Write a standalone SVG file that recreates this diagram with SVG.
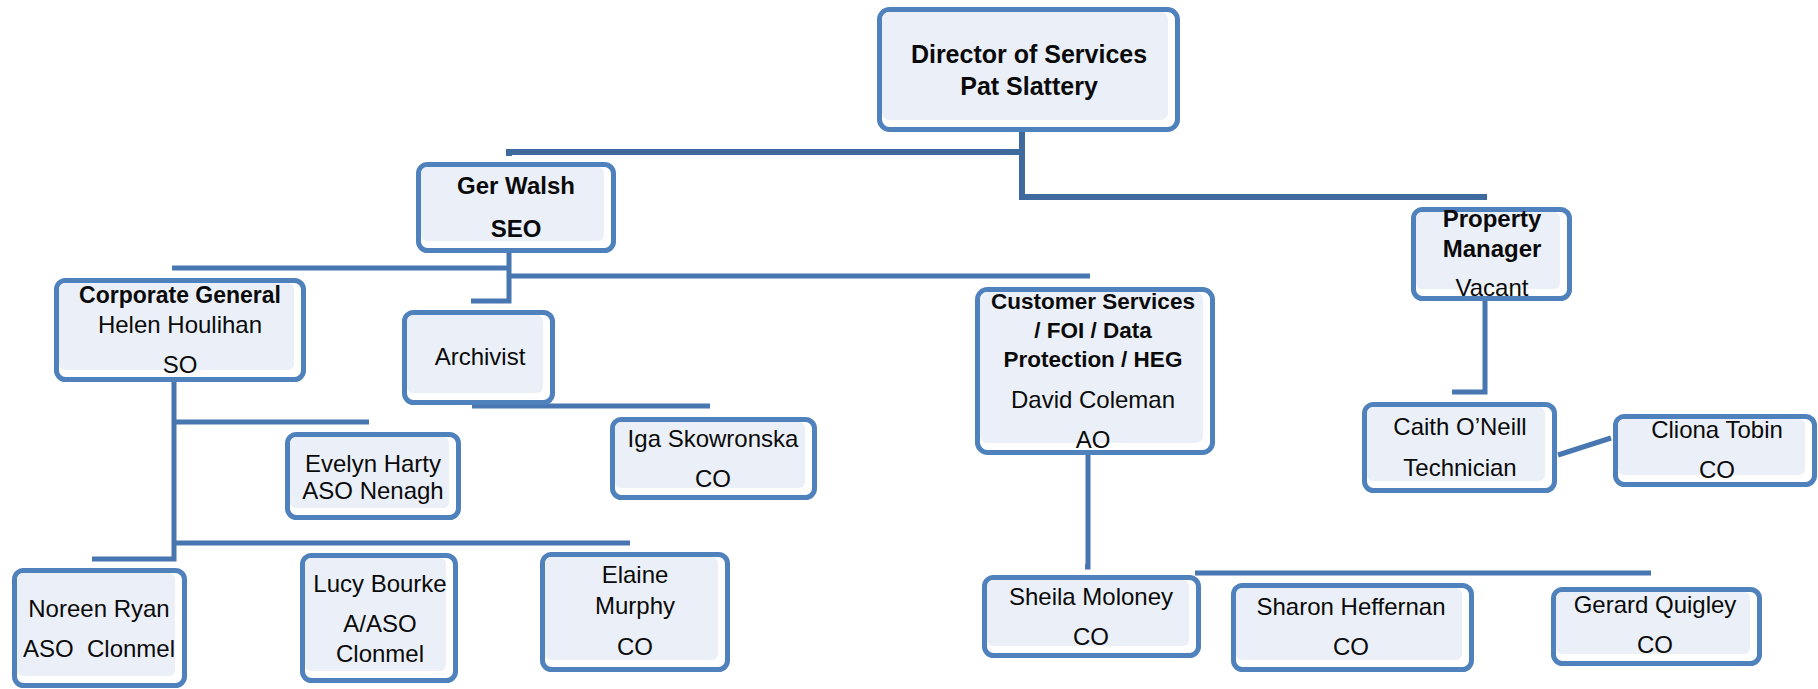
<svg xmlns="http://www.w3.org/2000/svg" width="1818" height="689" viewBox="0 0 1818 689">
  <style>
    .frame { fill: #ffffff; stroke: #4f81bd; stroke-width: 5; }
    .inner { fill: #ebf0f8; stroke: none; }
    .ln { fill: none; stroke: #4876b0; stroke-width: 5; stroke-linecap: butt; stroke-linejoin: miter; }
    .ln-top { fill: none; stroke: #3f6a9e; stroke-width: 6; }
    text { font-family: "Liberation Sans", Arial, sans-serif; fill: #0a0a0a; text-anchor: middle; }
    .b { font-weight: bold; font-size: 24px; }
    .r { font-size: 24px; }
  </style>

  <!-- connectors -->
  <g id="connectors">
    <!-- Director of Services -->
    <path class="ln-top" d="M1022,130 V197 H1487"/>
    <path class="ln-top" d="M1022,152 H509 v4"/>
    <!-- Property Manager to Technician -->
    <path class="ln" d="M1485,301 V392 H1452"/>
    <path class="ln" d="M1558,455 L1611,438"/>
    <!-- SEO branches -->
    <path class="ln" d="M509,253 V301 H471"/>
    <path class="ln" d="M509,268 H172"/>
    <path class="ln" d="M509,276 H1090"/>
    <!-- Archivist to CO -->
    <path class="ln" d="M472,406 H710"/>
    <!-- Corporate General branches -->
    <path class="ln" d="M174,382 V559 H92"/>
    <path class="ln" d="M174,422 H369"/>
    <path class="ln" d="M174,543 H630"/>
    <!-- Customer Services branches -->
    <path class="ln" d="M1088,455 V567 h-3"/>
    <path class="ln" d="M1195,573 H1651"/>
  </g>

  <g id="director">
    <rect class="frame" x="879.5" y="9.5" width="298" height="120" rx="10"/>
    <rect class="inner" x="882" y="12" width="286" height="108" rx="7"/>
    <text class="b" x="1029" y="63" style="font-size:25px">Director of Services</text>
    <text class="b" x="1029" y="95" style="font-size:25px">Pat Slattery</text>
  </g>

  <g id="ger-walsh">
    <rect class="frame" x="418.5" y="164.5" width="195" height="86" rx="9"/>
    <rect class="inner" x="421" y="167" width="183" height="74" rx="6"/>
    <text class="b" x="516" y="194">Ger Walsh</text>
    <text class="b" x="516" y="237">SEO</text>
  </g>

  <g id="property-manager">
    <rect class="frame" x="1413.5" y="209.5" width="156" height="89" rx="9"/>
    <rect class="inner" x="1416" y="212" width="144" height="77" rx="6"/>
    <text class="b" x="1492" y="227">Property</text>
    <text class="b" x="1492" y="257">Manager</text>
    <text class="r" x="1492" y="296">Vacant</text>
  </g>

  <g id="corporate-general">
    <rect class="frame" x="56.5" y="280.5" width="247" height="99" rx="9"/>
    <rect class="inner" x="59" y="283" width="235" height="87" rx="6"/>
    <text class="b" x="180" y="303" style="font-size:23px">Corporate General</text>
    <text class="r" x="180" y="333">Helen Houlihan</text>
    <text class="r" x="180" y="373">SO</text>
  </g>

  <g id="archivist">
    <rect class="frame" x="404.5" y="312.5" width="148" height="90" rx="9"/>
    <rect class="inner" x="407" y="315" width="136" height="78" rx="6"/>
    <text class="r" x="480" y="365">Archivist</text>
  </g>

  <g id="customer-services">
    <rect class="frame" x="977.5" y="289.5" width="235" height="163" rx="10"/>
    <rect class="inner" x="980" y="292" width="223" height="151" rx="7"/>
    <text class="b" x="1093" y="309" style="font-size:22.5px">Customer Services</text>
    <text class="b" x="1093" y="338" style="font-size:22.5px">/ FOI / Data</text>
    <text class="b" x="1093" y="367" style="font-size:22.5px">Protection / HEG</text>
    <text class="r" x="1093" y="408">David Coleman</text>
    <text class="r" x="1093" y="448">AO</text>
  </g>

  <g id="evelyn-harty">
    <rect class="frame" x="287.5" y="434.5" width="171" height="83" rx="9"/>
    <rect class="inner" x="290" y="437" width="159" height="71" rx="6"/>
    <text class="r" x="373" y="472">Evelyn Harty</text>
    <text class="r" x="373" y="499">ASO Nenagh</text>
  </g>

  <g id="iga-skowronska">
    <rect class="frame" x="612.5" y="419.5" width="202" height="78" rx="9"/>
    <rect class="inner" x="615" y="422" width="190" height="66" rx="6"/>
    <text class="r" x="713" y="447">Iga Skowronska</text>
    <text class="r" x="713" y="487">CO</text>
  </g>

  <g id="caith-oneill">
    <rect class="frame" x="1364.5" y="404.5" width="190" height="86" rx="9"/>
    <rect class="inner" x="1367" y="407" width="178" height="74" rx="6"/>
    <text class="r" x="1460" y="435">Caith O’Neill</text>
    <text class="r" x="1460" y="476">Technician</text>
  </g>

  <g id="cliona-tobin">
    <rect class="frame" x="1615.5" y="416.5" width="199" height="68" rx="9"/>
    <rect class="inner" x="1618" y="419" width="187" height="56" rx="6"/>
    <text class="r" x="1717" y="438">Cliona Tobin</text>
    <text class="r" x="1717" y="478">CO</text>
  </g>

  <g id="noreen-ryan">
    <rect class="frame" x="14.5" y="570.5" width="170" height="115" rx="9"/>
    <rect class="inner" x="17" y="573" width="158" height="103" rx="6"/>
    <text class="r" x="99" y="617">Noreen Ryan</text>
    <text class="r" x="99" y="657" xml:space="preserve">ASO  Clonmel</text>
  </g>

  <g id="lucy-bourke">
    <rect class="frame" x="302.5" y="555.5" width="153" height="125" rx="9"/>
    <rect class="inner" x="305" y="558" width="141" height="113" rx="6"/>
    <text class="r" x="380" y="592">Lucy Bourke</text>
    <text class="r" x="380" y="632">A/ASO</text>
    <text class="r" x="380" y="662">Clonmel</text>
  </g>

  <g id="elaine-murphy">
    <rect class="frame" x="542.5" y="554.5" width="185" height="115" rx="9"/>
    <rect class="inner" x="545" y="557" width="173" height="103" rx="6"/>
    <text class="r" x="635" y="583">Elaine</text>
    <text class="r" x="635" y="614">Murphy</text>
    <text class="r" x="635" y="655">CO</text>
  </g>

  <g id="sheila-moloney">
    <rect class="frame" x="984.5" y="577.5" width="214" height="78" rx="9"/>
    <rect class="inner" x="987" y="580" width="202" height="66" rx="6"/>
    <text class="r" x="1091" y="605">Sheila Moloney</text>
    <text class="r" x="1091" y="645">CO</text>
  </g>

  <g id="sharon-heffernan">
    <rect class="frame" x="1233.5" y="585.5" width="238" height="84" rx="9"/>
    <rect class="inner" x="1236" y="588" width="226" height="72" rx="6"/>
    <text class="r" x="1351" y="615">Sharon Heffernan</text>
    <text class="r" x="1351" y="655">CO</text>
  </g>

  <g id="gerard-quigley">
    <rect class="frame" x="1553.5" y="589.5" width="206" height="74" rx="9"/>
    <rect class="inner" x="1556" y="592" width="194" height="62" rx="6"/>
    <text class="r" x="1655" y="613">Gerard Quigley</text>
    <text class="r" x="1655" y="653">CO</text>
  </g>
</svg>
